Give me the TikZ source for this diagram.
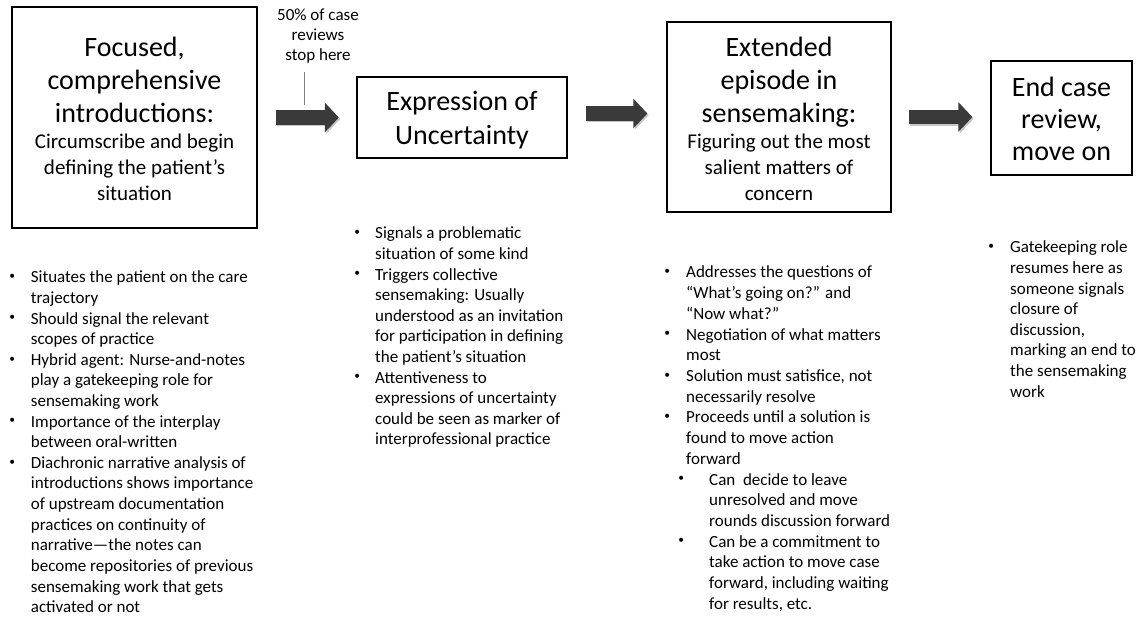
\documentclass[tikz,border=0pt]{standalone}
\usepackage{fontspec}
\setmainfont{Carlito}
\usetikzlibrary{calc,arrows.meta}
\definecolor{arrowgray}{HTML}{3A3A3A}
\definecolor{calloutgray}{HTML}{808080}
\newcommand{\itembul}[1][21.7pt]{\makebox[0pt][r]{\makebox[#1][l]{\makebox[6pt][c]{\raisebox{3.2pt}{\fontsize{11.5}{11.5}\selectfont\textbullet}}}}}
\begin{document}
\begin{tikzpicture}[x=1pt,y=-1pt,
  box/.style={draw=black, line width=1.5pt, inner sep=0pt},
  blockarrow/.style={line width=14.5pt, arrowgray, -{Triangle[length=14pt 0 0,width=29pt 0 0]}},
  blockshadow/.style={line width=14.5pt, black, opacity=0.22, -{Triangle[length=14pt 0 0,width=29pt 0 0]}},
  boxtext/.style={anchor=base, inner sep=0pt},
  listtext/.style={anchor=base west, inner sep=0pt},
  callout/.style={calloutgray, line width=1pt}]
\useasboundingbox (0,0) rectangle (1140,620);

% boxes
\node[box, minimum width=245pt, minimum height=221pt] (box1) at (134.5,117.5) {};
\node[box, minimum width=210pt, minimum height=81pt] (box2) at (462,117.5) {};
\node[box, minimum width=224pt, minimum height=190pt] (box3) at (779,117) {};
\node[box, minimum width=141pt, minimum height=114pt] (box4) at (1061.5,118) {};

% box texts
\node[boxtext] (t1) at (134.5,57) {\parbox[t]{240pt}{\centering
  \fontsize{28}{33}\selectfont Focused,\\comprehensive\\introductions:\par
  \fontsize{21}{26}\selectfont Circumscribe and begin\\defining the patient’s\\situation\par}};
\node[boxtext] (t2) at (462,111) {\parbox[t]{205pt}{\centering
  \fontsize{28}{34}\selectfont Expression of\\Uncertainty\par}};
\node[boxtext] (t3) at (779,57) {\parbox[t]{220pt}{\centering
  \fontsize{28}{33}\selectfont Extended\\episode in\\sensemaking:\par
  \fontsize{21}{26}\selectfont Figuring out the most\\salient matters of\\concern\par}};
\node[boxtext] (t4) at (1061.5,97) {\parbox[t]{138pt}{\centering
  \fontsize{28}{32}\selectfont End case\\review,\\move on\par}};

% callout
\node[boxtext] (note) at (318,21) {\parbox[t]{100pt}{\centering
  \fontsize{17}{20}\selectfont 50\% of case\\reviews\\stop here\par}};
\coordinate (c1) at (304,72);
\coordinate (c2) at (304,105);
\draw[callout] (c1) -- (c2);

% block arrows
\coordinate (a1s) at ($(box1.east)+(18,0)$);
\coordinate (a1e) at ($(box2.west)+(-17.5,0)$);
\coordinate (a2s) at ($(box2.east)+(18,-4)$);
\coordinate (a2e) at ($(box3.west)+(-19,-3.5)$);
\coordinate (a3s) at ($(box3.east)+(17,0)$);
\coordinate (a3e) at ($(box4.west)+(-18,-1)$);
\foreach \s/\e in {a1s/a1e,a2s/a2e,a3s/a3e}{
  \draw[blockshadow] ($(\s)+(1.5,1.5)$) -- ($(\e)+(1.5,1.5)$);
  \draw[blockarrow] (\s) -- (\e);
}

% bullet lists
\node[listtext] (l1) at (30.7,283) {\parbox[t]{300pt}{\raggedright
  \fontsize{17}{20.6}\selectfont
  \itembul Situates the patient on the care\\
  trajectory\\
  \itembul Should signal the relevant\\
  scopes of practice\\
  \itembul Hybrid agent: Nurse-and-notes\\
  play a gatekeeping role for\\
  sensemaking work\\
  \itembul Importance of the interplay\\
  between oral-written\\
  \itembul Diachronic narrative analysis of\\
  introductions shows importance\\
  of upstream documentation\\
  practices on continuity of\\
  narrative—the notes can\\
  become repositories of previous\\
  sensemaking work that gets\\
  activated or not\par}};

\node[listtext] (l2) at (375,239) {\parbox[t]{300pt}{\raggedright
  \fontsize{17}{20.6}\selectfont
  \itembul[21pt]Signals a problematic\\
  situation of some kind\\
  \itembul[21pt]Triggers collective\\
  sensemaking: Usually\\
  understood as an invitation\\
  for participation in defining\\
  the patient’s situation\\
  \itembul[21pt]Attentiveness to\\
  expressions of uncertainty\\
  could be seen as marker of\\
  interprofessional practice\par}};

\node[listtext] (l3) at (686,278) {\parbox[t]{300pt}{\raggedright
  \fontsize{17}{20.7}\selectfont
  \itembul[22pt]Addresses the questions of\\
  “What’s going on?” and\\
  “Now what?”\\
  \itembul[22pt]Negotiation of what matters\\
  most\\
  \itembul[22pt]Solution must satisfice, not\\
  necessarily resolve\\
  \itembul[22pt]Proceeds until a solution is\\
  found to move action\\
  forward\\
  \hspace*{23pt}\itembul[31pt]Can\ \ decide to leave\\
  \hspace*{23pt}unresolved and move\\
  \hspace*{23pt}rounds discussion forward\\
  \hspace*{23pt}\itembul[31pt]Can be a commitment to\\
  \hspace*{23pt}take action to move case\\
  \hspace*{23pt}forward, including waiting\\
  \hspace*{23pt}for results, etc.\par}};

\node[listtext] (l4) at (1010,253) {\parbox[t]{130pt}{\raggedright
  \fontsize{17}{20.6}\selectfont
  \itembul[22pt]Gatekeeping role\\
  resumes here as\\
  someone signals\\
  closure of\\
  discussion,\\
  marking an end to\\
  the sensemaking\\
  work\par}};
\end{tikzpicture}
\end{document}
